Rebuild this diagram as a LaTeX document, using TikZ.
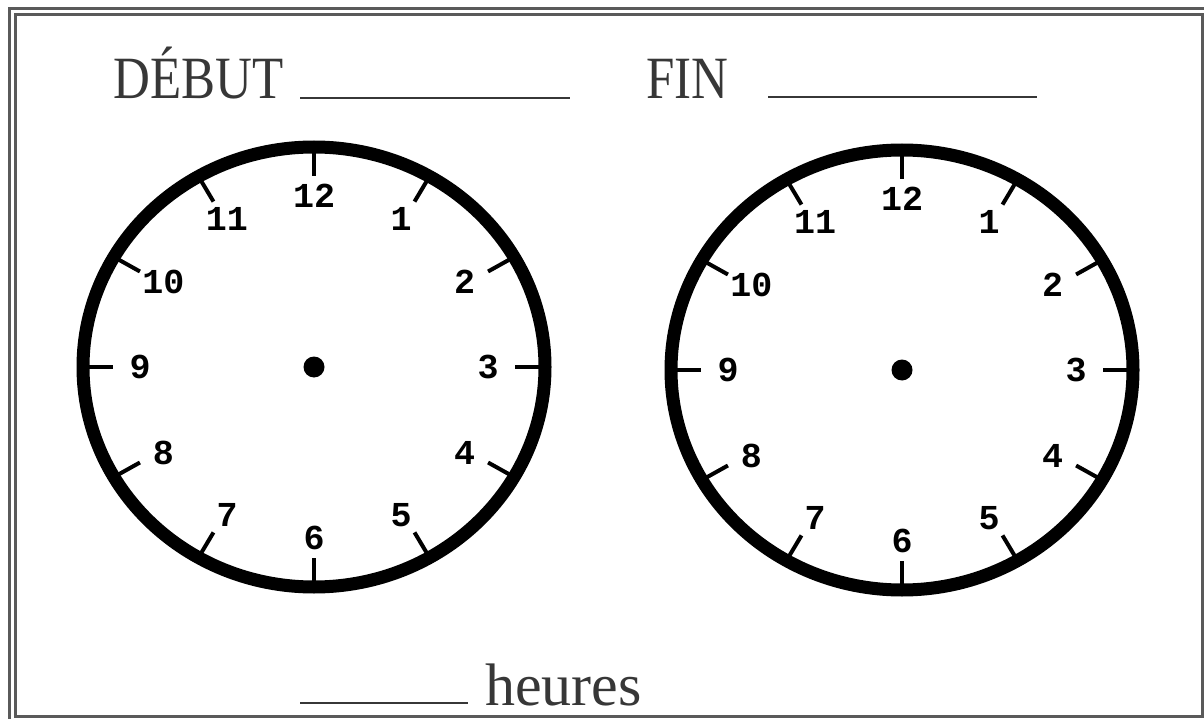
\documentclass[tikz,border=0pt]{standalone}
\usepackage{fontspec}
\usepackage{graphicx}
\setmainfont{Liberation Serif}
\newfontfamily\dialfont{Liberation Mono}
\usetikzlibrary{positioning}
\definecolor{inkgray}{RGB}{55,55,55}
\definecolor{framegray}{RGB}{90,90,90}
\newcommand\narrowtext[1]{\scalebox{0.85}[1]{#1}}
\tikzset{
  title/.style={font=\fontsize{60}{60}\selectfont, text=inkgray, inner sep=0pt, anchor=base west},
  blank/.style={draw=inkgray, line width=2.5pt},
  frame/.style={draw=framegray, line width=3pt},
  rim/.style={draw=black, line width=13pt},
  hourtick/.style={draw=black, line width=4pt},
  hournum/.style={font=\dialfont\bfseries\fontsize{35}{35}\selectfont, inner sep=0pt}
}

\begin{document}
\begin{tikzpicture}[x=1pt, y=-1pt]
    \useasboundingbox (0,0) rectangle (1204,719);
    % double frame
    \draw[frame] (9,719) -- (9,9) -- (1204,9);
    \draw[frame] (15,15) rectangle (1202,716);
    % header
    \node[title] (debut) at (113,99) {\narrowtext{DÉBUT}};
    \draw[blank] (300,98) -- (570,98);
    \node[title] (fin) at (646,99) {\narrowtext{FIN}};
    \draw[blank] (768,97) -- (1037,97);
    % clock faces
    \foreach \c/\cx/\cy in {debutclock/314/367, finclock/902/370} {
      \coordinate (\c) at (\cx,\cy);
      \draw[rim] (\c) ellipse [x radius=231, y radius=220];
      \fill (\c) circle [radius=10.5];
      \begin{scope}[shift={(\cx,\cy)}]
        \foreach \h in {1,...,12} {
          \draw[hourtick] ({30*\h-90}:231 and 220) -- ({30*\h-90}:201 and 191);
          \node[hournum] (\c-\h) at ({30*\h-90}:174 and 171) {\h};
        }
      \end{scope}
    }
    % footer
    \node[title, font=\fontsize{60}{60}\selectfont] (heures) at (485,705) {heures};
    \draw[blank] (300,703) -- (468,703);
\end{tikzpicture}
\end{document}
